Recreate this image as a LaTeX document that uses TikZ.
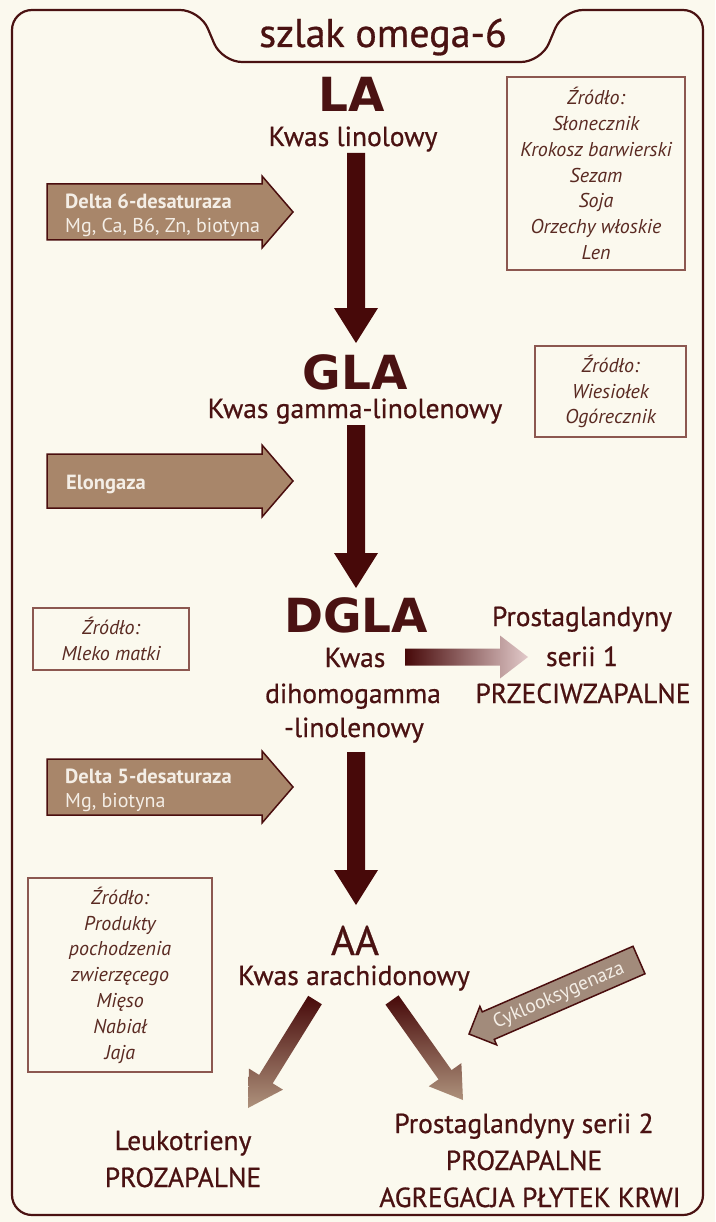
\documentclass[tikz,border=0pt]{standalone}
\usepackage{fontspec}
\setmainfont{PT Sans}
\newfontfamily\medfont{PT Sans}[FakeBold=0.7]
\newfontfamily\heavyfont{DejaVu Sans}
\usetikzlibrary{calc}
\definecolor{bg}{HTML}{FBF9EE}
\definecolor{ink}{HTML}{4A1212}
\definecolor{arrowdark}{HTML}{470909}
\definecolor{enzfill}{HTML}{A8866A}
\definecolor{enzline}{HTML}{4A0E0E}
\definecolor{enztext}{HTML}{F4EEE6}
\definecolor{srcline}{HTML}{8C5850}
\definecolor{srctext}{HTML}{5A2A22}
\definecolor{cyclofill}{HTML}{A28B7B}
\definecolor{pale}{HTML}{E2CACA}
\definecolor{tanc}{HTML}{AE927C}
\newcommand{\blkarrow}[6]{%
  \coordinate (ba-c) at ($(#3)!#6!(#2)$);
  \path[#1] ($(#2)!#4!90:(#3)$) -- ($(ba-c)!#4!-90:(#2)$) -- ($(ba-c)!#5!-90:(#2)$) -- (#3)
    -- ($(ba-c)!#5!90:(#2)$) -- ($(ba-c)!#4!90:(#2)$) -- ($(#2)!#4!-90:(#3)$) -- cycle;
}
\begin{document}
\begin{tikzpicture}[x=1pt,y=-1pt,
  main/.style={text=ink, font=\medfont\fontsize{27.5}{31}\selectfont, inner sep=0pt, anchor=base},
  big/.style={text=ink, font=\heavyfont\bfseries\fontsize{47}{50}\selectfont, inner sep=0pt, anchor=base},
  src/.style={draw=srcline, line width=1.2pt, text=srctext, font=\itshape\fontsize{20}{25.8}\selectfont, align=center, inner sep=0pt},
  enz/.style={fill=enzfill, draw=enzline, line width=1.5pt},
  enzt/.style={text=enztext, font=\bfseries\fontsize{20.5}{22}\selectfont, anchor=base west, inner sep=0pt},
  enzs/.style={text=enztext, font=\fontsize{20}{22}\selectfont, anchor=base west, inner sep=0pt},
  darkarrow/.style={fill=arrowdark}
]
\fill[bg] (0,0) rectangle (715,1222);
\useasboundingbox (0,0) rectangle (715,1222);

% frame with tab
\draw[ink, line width=2.2pt, rounded corners=20pt] (12,600) -- (12,1215) -- (703,1215) -- (703,10) -- (563,10) -- (541,62) -- (222,62) -- (200,10) -- (12,10) -- cycle;
\node[text=ink, font=\medfont\fontsize{40}{44}\selectfont, inner sep=0pt, anchor=base] (title) at (383,47) {szlak omega-6};

% main chain
\node[big] (la) at (352,112) {LA};
\node[main] (kla) at (353,146) {Kwas linolowy};
\node[big] (gla) at (355,389) {GLA};
\node[main] (kgla) at (355,418) {Kwas gamma-linolenowy};
\node[big] (dgla) at (356,632) {DGLA};
\node[main] (kd1) at (355,667) {Kwas};
\node[main] (kd2) at (353,703) {dihomogamma};
\node[main] (kd3) at (354,737) {-linolenowy};
\node[text=ink, font=\medfont\fontsize{41}{44}\selectfont, inner sep=0pt, anchor=base] (aa) at (355,955) {AA};
\node[main] (kaa) at (354,985) {Kwas arachidonowy};

\node[main] (pg1a) at (582,626) {Prostaglandyny};
\node[main] (pg1b) at (582,666) {serii 1};
\node[main] (pg1c) at (583,703) {PRZECIWZAPALNE};

\node[main] (lt1) at (183,1150) {Leukotrieny};
\node[main] (lt2) at (183,1187) {PROZAPALNE};
\node[main] (pg2a) at (524,1133) {Prostaglandyny serii 2};
\node[main] (pg2b) at (524,1170) {PROZAPALNE};
\node[main] (pg2c) at (530,1207) {AGREGACJA PŁYTEK KRWI};

% vertical dark arrows
\coordinate (v1s) at (356,153); \coordinate (v1e) at (356,343);
\coordinate (v2s) at (356,425); \coordinate (v2e) at (356,588);
\coordinate (v3s) at (356,752); \coordinate (v3e) at (356,905);
\blkarrow{darkarrow}{v1s}{v1e}{9pt}{22pt}{35pt}
\blkarrow{darkarrow}{v2s}{v2e}{9pt}{22pt}{35pt}
\blkarrow{darkarrow}{v3s}{v3e}{9pt}{22pt}{35pt}

% DGLA -> prostaglandyny serii 1
\coordinate (hs) at (405,657); \coordinate (he) at (528,657);
\blkarrow{left color=arrowdark, right color=pale}{hs}{he}{8.5pt}{21.5pt}{28pt}

% AA -> bottom
\coordinate (bls) at (315,1000); \coordinate (ble) at (248,1108);
\coordinate (brs) at (392,1000); \coordinate (bre) at (463,1100);
\blkarrow{top color=arrowdark, bottom color=tanc}{bls}{ble}{8pt}{20pt}{34pt}
\blkarrow{top color=arrowdark, bottom color=tanc}{brs}{bre}{8pt}{20pt}{31pt}

% enzyme arrows
\coordinate (e1s) at (47,212); \coordinate (e1e) at (293,212);
\blkarrow{enz}{e1s}{e1e}{28pt}{36pt}{31pt}
\node[enzt] (e1a) at (65,209) {Delta 6-desaturaza};
\node[enzs] (e1b) at (65,233) {Mg, Ca, B6, Zn, biotyna};

\coordinate (e2s) at (47,481); \coordinate (e2e) at (293,481);
\blkarrow{enz}{e2s}{e2e}{27pt}{36pt}{31pt}
\node[enzt] (e2a) at (66,489) {Elongaza};

\coordinate (e3s) at (47,787); \coordinate (e3e) at (293,787);
\blkarrow{enz}{e3s}{e3e}{28pt}{36pt}{31pt}
\node[enzt] (e3a) at (65,783) {Delta 5-desaturaza};
\node[enzs] (e3b) at (65,807) {Mg, biotyna};

% cyclooxygenase arrow
\coordinate (cys) at (639,960); \coordinate (cye) at (469,1034);
\blkarrow{fill=cyclofill, draw=enzline, line width=1.5pt}{cys}{cye}{15pt}{21pt}{21pt}
\node[text=enztext, font=\fontsize{19.5}{22}\selectfont, rotate=23.5, inner sep=0pt] (cyt) at (559,996) {Cyklooksygenaza};

% source boxes
\node[src, minimum width=178pt, minimum height=193pt] (s1) at (596,173.5)
  {Źródło:\\Słonecznik\\Krokosz barwierski\\Sezam\\Soja\\Orzechy włoskie\\Len};
\node[src, minimum width=151pt, minimum height=91pt] (s2) at (610.5,391.5)
  {Źródło:\\Wiesiołek\\Ogórecznik};
\node[src, minimum width=156pt, minimum height=62pt] (s3) at (111,639)
  {Źródło:\\Mleko matki};
\node[src, minimum width=184pt, minimum height=194pt] (s4) at (120,975)
  {Źródło:\\Produkty\\pochodzenia\\zwierzęcego\\Mięso\\Nabiał\\Jaja};
\end{tikzpicture}
\end{document}
